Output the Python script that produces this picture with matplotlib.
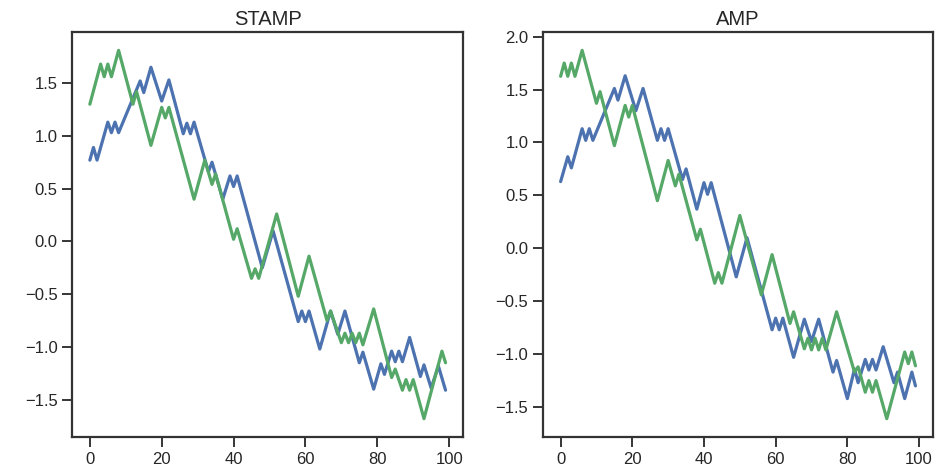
import matplotlib
matplotlib.use("Agg")
import matplotlib.pyplot as plt
import seaborn as sns

# turning points of each walk (index, value); the walk is straight between them
stamp_a_idx = [0, 1, 2, 5, 6, 7, 8, 14, 15, 17, 20, 22, 26, 27, 28, 29, 33, 34, 37, 39, 40, 41,
               48, 51, 58, 59, 60, 61, 64, 67, 69, 71, 75, 76, 79, 81, 82, 84, 85, 86, 87, 89,
               92, 93, 95, 97, 99]
stamp_a_val = [0.77, 0.89, 0.77, 1.13, 1.03, 1.13, 1.03, 1.52, 1.41, 1.65, 1.33, 1.53, 1.02, 1.12,
               1.02, 1.13, 0.66, 0.75, 0.40, 0.62, 0.52, 0.62, -0.25, 0.10, -0.76, -0.66, -0.76,
               -0.66, -1.02, -0.66, -0.88, -0.66, -1.15, -1.05, -1.40, -1.16, -1.26, -1.04, -1.14,
               -1.04, -1.14, -0.91, -1.28, -1.17, -1.39, -1.18, -1.41]

stamp_b_idx = [0, 3, 4, 5, 6, 8, 12, 13, 17, 20, 21, 22, 29, 32, 34, 35, 40, 41, 45, 46, 47, 52,
               58, 61, 66, 67, 70, 71, 72, 73, 74, 75, 76, 79, 84, 85, 87, 88, 89, 90, 93, 98, 99]
stamp_b_val = [1.30, 1.68, 1.56, 1.68, 1.56, 1.81, 1.30, 1.42, 0.91, 1.27, 1.17, 1.27, 0.40, 0.77,
               0.54, 0.64, 0.02, 0.12, -0.35, -0.26, -0.35, 0.26, -0.52, -0.14, -0.75, -0.66,
               -0.96, -0.87, -0.96, -0.87, -0.96, -0.87, -0.98, -0.64, -1.29, -1.21, -1.41, -1.31,
               -1.41, -1.31, -1.68, -1.04, -1.15]

amp_a_idx = [0, 2, 3, 6, 7, 8, 9, 15, 16, 18, 21, 23, 27, 28, 29, 30, 34, 35, 38, 40, 41, 42,
             49, 52, 59, 60, 61, 62, 65, 68, 70, 72, 76, 77, 80, 82, 83, 85, 86, 87, 88, 90,
             93, 94, 96, 98, 99]
amp_a_val = [0.63, 0.865, 0.76, 1.13, 1.02, 1.13, 1.02, 1.51, 1.40, 1.63, 1.30, 1.51, 1.02, 1.13,
             1.02, 1.13, 0.65, 0.75, 0.37, 0.62, 0.51, 0.62, -0.27, 0.10, -0.77, -0.66, -0.77,
             -0.66, -1.03, -0.67, -0.88, -0.67, -1.17, -1.06, -1.42, -1.14, -1.27, -1.05, -1.15,
             -1.05, -1.15, -0.93, -1.27, -1.17, -1.42, -1.17, -1.30]

amp_b_idx = [0, 1, 2, 3, 4, 6, 10, 11, 15, 18, 19, 20, 27, 30, 32, 33, 38, 39, 43, 44, 45, 50,
             56, 59, 64, 65, 68, 69, 70, 71, 72, 73, 74, 77, 82, 83, 85, 86, 87, 88, 91, 96, 97,
             98, 99]
amp_b_val = [1.625, 1.75, 1.625, 1.75, 1.625, 1.87, 1.37, 1.48, 0.97, 1.35, 1.24, 1.35, 0.45, 0.83,
             0.59, 0.70, 0.08, 0.18, -0.33, -0.23, -0.33, 0.31, -0.44, -0.06, -0.71, -0.60,
             -0.95, -0.85, -0.96, -0.85, -0.96, -0.85, -0.96, -0.60, -1.17, -1.12, -1.36, -1.25,
             -1.36, -1.25, -1.61, -0.98, -1.09, -0.98, -1.11]

x_ticks = [0, 20, 40, 60, 80, 100]
stamp_y_ticks = [-1.5, -1.0, -0.5, 0.0, 0.5, 1.0, 1.5]
amp_y_ticks = [-1.5, -1.0, -0.5, 0.0, 0.5, 1.0, 1.5, 2.0]

sns.set_style("ticks")
plt.rcParams["font.family"] = ["Liberation Sans", "DejaVu Sans"]
plt.rcParams["axes.unicode_minus"] = True

blue = sns.color_palette("deep")[0]
green = sns.color_palette("deep")[2]


def draw_panel(ax, title, a_idx, a_val, b_idx, b_val, y_ticks):
    ax.plot(a_idx, a_val, color=blue, lw=2.3)
    ax.plot(b_idx, b_val, color=green, lw=2.3)
    ax.set_title(title, fontsize=14.5, pad=5)
    ax.set_xticks(x_ticks)
    ax.set_yticks(y_ticks)
    ax.tick_params(labelsize=12, length=7, width=1.3, colors="0.15")
    for spine in ax.spines.values():
        spine.set_linewidth(1.6)
        spine.set_color("0.2")


fig = plt.figure(figsize=(9.36, 4.70), dpi=100)
ax1 = fig.add_axes([0.077, 0.070, 0.418, 0.862])
ax2 = fig.add_axes([0.580, 0.070, 0.417, 0.862])

draw_panel(ax1, "STAMP", stamp_a_idx, stamp_a_val, stamp_b_idx, stamp_b_val, stamp_y_ticks)
draw_panel(ax2, "AMP", amp_a_idx, amp_a_val, amp_b_idx, amp_b_val, amp_y_ticks)

fig.savefig("out.png", dpi=100)
